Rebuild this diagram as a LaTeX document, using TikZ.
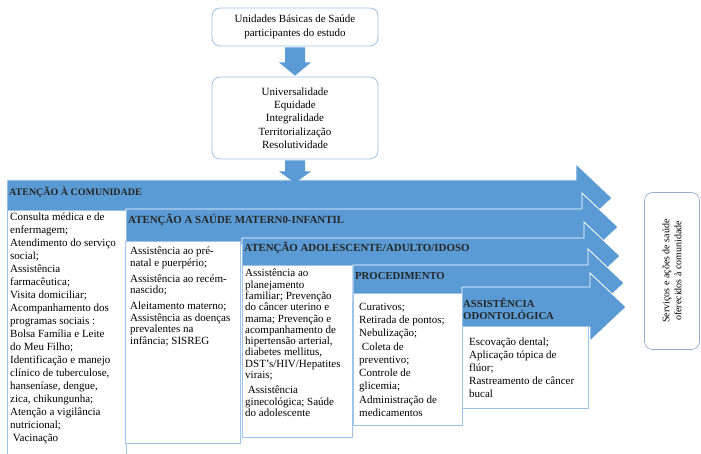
\documentclass[tikz,border=0pt]{standalone}
\usepackage{fontspec}
\setmainfont{Liberation Serif}
\usetikzlibrary{calc,positioning}
\definecolor{arrowblue}{RGB}{91,155,213}
\definecolor{boxline}{RGB}{157,195,230}
\definecolor{servline}{RGB}{150,172,205}

% wide arrow: left x, top y, body height, head base x
\newcommand{\fatarrow}[4]{%
  \path[bigarrow] (#1,#2) -- (#4,#2) -- (#4,{#2+#3/2-34}) -- ({#4+36},{#2+#3/2})
    -- (#4,{#2+#3/2+34}) -- (#4,{#2+#3}) -- (#1,{#2+#3}) -- cycle;}

\begin{document}
\begin{tikzpicture}[x=1pt,y=-1pt,
    topbox/.style={draw=boxline, line width=0.8pt, rounded corners=8pt, fill=white, align=center, inner sep=0pt, font=\fontsize{11}{13.3}\selectfont},
    servbox/.style={draw=servline, line width=0.7pt, rounded corners=8pt, fill=white, align=center, inner sep=0pt, font=\fontsize{10}{12}\selectfont},
    listbox/.style={draw=boxline, line width=0.8pt, fill=white, inner sep=0pt, anchor=north west},
    listtxt/.style={anchor=north west, align=left, inner sep=0pt},
    lbl/.style={anchor=west, align=left, inner sep=0pt, text=black!85, font=\fontsize{10.7}{11.5}\selectfont\bfseries},
    bigarrow/.style={fill=arrowblue, draw=white, line width=0.8pt},
    downarrow/.style={fill=arrowblue}]
    \useasboundingbox (0,0) rectangle (701,454);
    \clip (0,0) rectangle (701,454);

    % Top boxes
    \node[topbox, minimum width=166, minimum height=38] (ubs) at (295,27) {Unidades Básicas de Saúde\\participantes do estudo};
    \node[topbox, minimum width=166, minimum height=82] (princ) at (295,118) {Universalidade\\Equidade\\Integralidade\\Territorialização\\Resolutividade};
    \coordinate (comuntop) at (295,183);

    % Wide arrows and their boxes
    \fatarrow{7}{180}{36}{576}
    \node[lbl, font=\fontsize{10}{11}\selectfont\bfseries] (comunlbl) at (9,192) {ATENÇÃO À COMUNIDADE};
    \node[listbox, minimum width=119, minimum height=260] (comunbox) at (7,210) {};

    \fatarrow{126}{209}{36}{582}
    \node[lbl, font=\fontsize{10.9}{11.5}\selectfont\bfseries] (maternlbl) at (128,220) {ATENÇÃO A SAÚDE MATERN0-INFANTIL};
    \node[listbox, minimum width=115, minimum height=202] (maternbox) at (125,241) {};

    \fatarrow{242}{238}{36}{584}
    \node[lbl, font=\fontsize{10.9}{11.5}\selectfont\bfseries] (adultlbl) at (244,248) {ATENÇÃO ADOLESCENTE/ADULTO/IDOSO};
    \node[listbox, minimum width=110, minimum height=172] (adultbox) at (242,265) {};

    \fatarrow{353}{265}{36}{588}
    \node[lbl] (proclbl) at (355,276) {PROCEDIMENTO};
    \node[listbox, minimum width=109, minimum height=132] (procbox) at (353,293) {};

    \fatarrow{462}{287}{40}{590}
    \node[lbl] (odontolbl) at (463,309) {ASSISTÊNCIA\\ODONTOLÓGICA};
    \node[listbox, minimum width=126, minimum height=82] (odontobox) at (462,326) {};

    % Down arrows
    \fill[downarrow] ($(ubs.south)+(-10,1)$) -- ($(ubs.south)+(10,1)$) -- ($(ubs.south)+(10,16)$) -- ($(ubs.south)+(16,16)$)
        -- ($(princ.north)+(0,-1)$) -- ($(ubs.south)+(-16,16)$) -- ($(ubs.south)+(-10,16)$) -- cycle;
    \fill[downarrow] ($(princ.south)+(-10,1)$) -- ($(princ.south)+(10,1)$) -- ($(princ.south)+(10,12)$) -- ($(princ.south)+(16,12)$)
        -- (comuntop) -- ($(princ.south)+(-16,12)$) -- ($(princ.south)+(-10,12)$) -- cycle;

    % Lists
    \node[listtxt, font=\fontsize{11}{13}\selectfont] (comuntxt) at ($(comunbox.north west)+(3,3)$) {Consulta médica e de\\enfermagem;\\Atendimento do serviço\\social;\\Assistência\\farmacêutica;\\Visita domiciliar;\\Acompanhamento dos\\programas sociais :\\Bolsa Família e Leite\\do Meu Filho;\\Identificação e manejo\\clínico de tuberculose,\\hanseníase, dengue,\\zica, chikungunha;\\Atenção a vigilância\\nutricional;\\\ Vacinação};
    \node[listtxt, font=\fontsize{11}{11.5}\selectfont] (materntxt) at ($(maternbox.north west)+(5,6)$) {Assistência ao pré-\\natal e puerpério;\\[4.5pt]Assistência ao recém-\\nascido;\\[4.5pt]Aleitamento materno;\\Assistência as doenças\\prevalentes na\\infância; SISREG};
    \node[listtxt, font=\fontsize{11}{11.3}\selectfont] (adulttxt) at ($(adultbox.north west)+(3,4)$) {Assistência ao\\planejamento\\familiar; Prevenção\\do câncer uterino e\\mama; Prevenção e\\acompanhamento de\\hipertensão arterial,\\diabetes mellitus,\\DST’s/HIV/Hepatites\\virais;\\[4pt]\ Assistência\\ginecológica; Saúde\\do adolescente};
    \node[listtxt, font=\fontsize{11}{13.25}\selectfont] (proctxt) at ($(procbox.north west)+(6,10)$) {Curativos;\\Retirada de pontos;\\Nebulização;\\\ Coleta de\\preventivo;\\Controle de\\glicemia;\\Administração de\\medicamentos};
    \node[listtxt, font=\fontsize{11}{12.8}\selectfont] (odontotxt) at ($(odontobox.north west)+(7,12)$) {Escovação dental;\\Aplicação tópica de\\flúor;\\Rastreamento de câncer\\bucal};

    % Result box
    \node[servbox, rotate=90, minimum width=157, minimum height=55] (serv) at (672,271) {Serviços e ações de saúde\\oferecidos à comunidade};
\end{tikzpicture}
\end{document}
